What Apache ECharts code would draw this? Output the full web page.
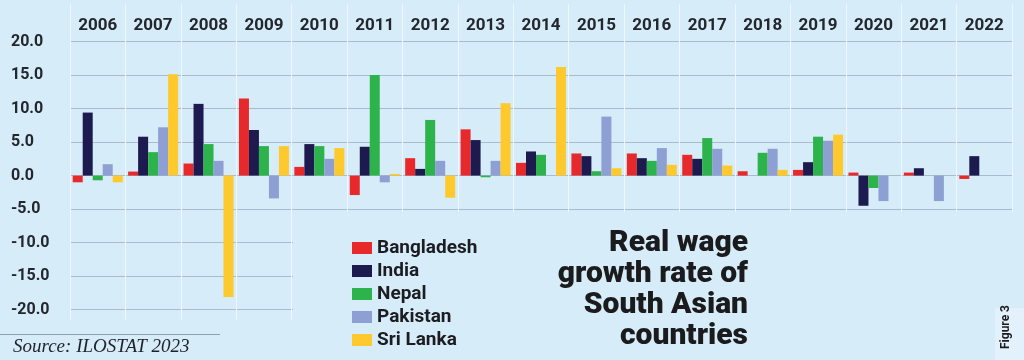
<!DOCTYPE html>
<html>
<head>
<meta charset="utf-8">
<script src="https://cdn.jsdelivr.net/npm/echarts@6/dist/echarts.min.js"></script>
<style>
html,body{margin:0;padding:0;background:#d6ecf8;}
#c{width:1024px;height:360px;}
</style>
</head>
<body>
<div id="c"></div>
<script>
const years = ['2006','2007','2008','2009','2010','2011','2012','2013','2014','2015','2016','2017','2018','2019','2020','2021','2022'];
const seriesNames = ['Bangladesh','India','Nepal','Pakistan','Sri Lanka'];
const bangladesh = [-1.0, 0.6, 1.8, 11.5, 1.3, -2.9, 2.6, 6.9, 1.9, 3.3, 3.3, 3.1, 0.65, 0.85, 0.45, 0.45, -0.5];
const india      = [9.4, 5.8, 10.7, 6.8, 4.7, 4.3, 1.0, 5.3, 3.6, 2.9, 2.6, 2.5, null, 2.0, -4.5, 1.1, 2.9];
const nepal      = [-0.7, 3.5, 4.7, 4.4, 4.4, 15.0, 8.3, -0.25, 3.1, 0.65, 2.2, 5.6, 3.4, 5.8, -1.85, null, null];
const pakistan   = [1.7, 7.2, 2.2, -3.4, 2.5, -1.0, 2.2, 2.2, null, 8.8, 4.1, 4.0, 4.0, 5.2, -3.8, -3.8, null];
const sriLanka   = [-1.0, 15.1, -18.1, 4.4, 4.1, 0.25, -3.3, 10.8, 16.2, 1.1, 1.6, 1.5, 0.85, 6.1, null, null, null];
const yTicks = [-20, -15, -10, -5, 0, 5, 10, 15, 20];
const colors = ['#e8292c', '#1c1a4f', '#2db34b', '#8e9fd3', '#fec92c'];
const titleText = 'Real wage\ngrowth rate of\nSouth Asian\ncountries';
const sourceText = 'Source: ILOSTAT 2023';

const BG = '#d6ecf8';
const values = [bangladesh, india, nepal, pakistan, sriLanka];

const chart = echarts.init(document.getElementById('c'));
chart.setOption({
  backgroundColor: BG,
  animation: false,
  color: colors,
  grid: [
    {left: 70, right: 12, top: 41.5, bottom: 50.3},
    {left: 70, right: 12, top: 4, bottom: 40}
  ],
  xAxis: [
    {
      type: 'category', data: years, position: 'top', gridIndex: 0,
      axisLine: {show: false, onZero: false}, axisTick: {show: false},
      axisLabel: {margin: 7, fontFamily: 'Roboto, sans-serif', fontWeight: 'bold', fontSize: 17, color: '#23262d'},
      splitLine: {show: false}
    },
    {
      type: 'category', data: years, gridIndex: 1,
      axisLine: {show: false}, axisTick: {show: false}, axisLabel: {show: false},
      splitLine: {show: true, lineStyle: {color: '#eef7fd', width: 1}}
    }
  ],
  yAxis: [
    {
      type: 'value', min: yTicks[0], max: yTicks[yTicks.length - 1], interval: 5, gridIndex: 0,
      axisLine: {show: false}, axisTick: {show: false},
      axisLabel: {align: 'left', margin: 59, fontFamily: 'Roboto, sans-serif', fontWeight: 'bold', fontSize: 16, color: '#23262d',
        formatter: v => v.toFixed(1)},
      splitLine: {lineStyle: {color: '#a9bccb', width: 1}}
    },
    {type: 'value', gridIndex: 1, show: false}
  ],
  legend: {
    orient: 'vertical', left: 347, top: 233,
    itemWidth: 20, itemHeight: 12, itemGap: 3, icon: 'rect',
    textStyle: {fontFamily: 'Roboto, sans-serif', fontWeight: 'bold', fontSize: 19, lineHeight: 20, color: '#1c1c22'},
    data: seriesNames
  },
  series: seriesNames.map((name, i) => ({
    name: name, type: 'bar', data: values[i],
    xAxisIndex: 0, yAxisIndex: 0,
    barWidth: 10, barGap: '0%', z: 3
  })),
  graphic: [
    {type: 'rect', z: 1, shape: {x: 293, y: 212, width: 731, height: 148}, style: {fill: BG}},
    {type: 'rect', z: 1, shape: {x: 995, y: 308, width: 29, height: 52}, style: {fill: '#e2f1fb'}},
    {type: 'line', z: 1, shape: {x1: 0, y1: 334.5, x2: 220, y2: 334.5}, style: {stroke: '#8fa0ae', lineWidth: 1}},
    {type: 'text', z: 5, x: 13, y: 347, style: {text: sourceText, font: "italic 19px 'Liberation Serif', serif", fill: '#1f2228', align: 'left', verticalAlign: 'middle'}},
    {type: 'text', z: 5, x: 748, y: 228, style: {text: titleText, font: "900 30px Roboto, 'Liberation Sans', sans-serif", fill: '#1b1b1d', align: 'right', verticalAlign: 'top', lineHeight: 31}},
    {type: 'text', z: 5, x: 1006, y: 327, rotation: Math.PI / 2, style: {text: 'Figure 3', font: "bold 12px Roboto, sans-serif", fill: '#1b1b1d', align: 'center', verticalAlign: 'middle'}},
    // logo
    {type: 'group', z: 5, children: [
      {type: 'rect', shape: {x: 875, y: 274, width: 41, height: 2}, style: {fill: '#1b1b1d'}},
      {type: 'rect', shape: {x: 881, y: 275, width: 8, height: 34}, style: {fill: '#1b1b1d'}},
      {type: 'circle', shape: {cx: 884.5, cy: 269.5, r: 5}, style: {fill: '#1b1b1d'}},
      {type: 'rect', shape: {x: 902, y: 284, width: 8, height: 25}, style: {fill: '#1b1b1d'}},
      {type: 'circle', shape: {cx: 906, cy: 280.5, r: 4.5}, style: {fill: '#1b1b1d'}},
      {type: 'rect', shape: {x: 875, y: 308, width: 41, height: 2.5}, style: {fill: '#1b1b1d'}}
    ]}
  ]
});
</script>
</body>
</html>
